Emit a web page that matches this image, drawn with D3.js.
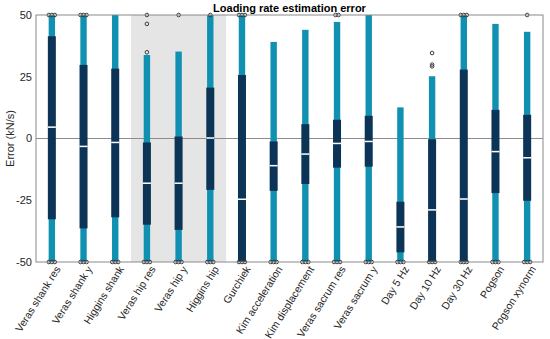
<!DOCTYPE html>
<html><head><meta charset="utf-8">
<script src="https://cdn.jsdelivr.net/npm/d3@7"></script>
<style>body{margin:0;background:#fff;} svg{display:block;font-family:"Liberation Sans",Arial,sans-serif;}</style>
</head><body><svg id="c" width="550" height="339"></svg>
<script>
const categories = ["Veras shank res","Veras shank y","Higgins shank","Veras hip res","Veras hip y","Higgins hip","Gurchiek","Kim acceleration","Kim displacement","Veras sacrum res","Veras sacrum y","Day 5 Hz","Day 10 Hz","Day 30 Hz","Pogson","Pogson xynorm"];
const whiskerHigh = [50,50,50,33.8,35.2,50,50,39.1,44,47.2,50,12.6,25.2,50,46.4,43.2];
const whiskerLow  = [-50,-50,-50,-50,-50,-50,-50,-50,-50,-50,-50,-50,-50,-50,-50,-50];
const boxHigh = [41.4,29.8,28.3,-1.6,0.8,20.6,25.7,-1.2,5.8,7.6,9.2,-25.6,-0.3,27.9,11.6,9.6];
const medians = [4.6,-3.2,-1.6,-18.1,-18.1,0.2,-24.6,-11,-6.3,-2,-1.2,-35.8,-28.9,-24.5,-5.3,-7.8];
const boxLow  = [-32.7,-36.4,-31.9,-34.9,-37,-20.8,-50,-21.2,-18.4,-11.8,-11.4,-46.1,-50,-50,-22.1,-25.2];
const outliersHigh = [[50,50,50],[50,50,50],[],[50,46.4,34.9],[50],[50],[50,50,50],[],[],[50,50],[],[],[34.6,29.9,29.2],[50,50,50],[],[50]];
const outliersLow = categories.map(()=>[-50,-50,-50]);
const shadedCategories = ["Veras hip res","Veras hip y","Higgins hip"];
const yTicks = [-50,-25,0,25,50];

const svg = d3.select("#c");
const L=36,R=543,T=15,B=262;
const x = d3.scaleBand().domain(categories).range([L,R]).padding(0);
const y = d3.scaleLinear().domain([-50,50]).range([B,T]);
const cx = c => x(c)+x.bandwidth()/2;
const teal="#1191b1", navy="#0b3457", axisCol="#8a8a8a", txt="#262626";

svg.append("rect").attr("x",x(shadedCategories[0])).attr("y",T)
  .attr("width",x(shadedCategories[shadedCategories.length-1])+x.bandwidth()-x(shadedCategories[0]))
  .attr("height",B-T).attr("fill","#e5e5e5");
svg.append("line").attr("x1",L).attr("x2",R).attr("y1",y(0)).attr("y2",y(0)).attr("stroke","#8c8c8c").attr("stroke-width",1);

const g = svg.append("g");
categories.forEach((c,i)=>{
  const xc=cx(c);
  g.append("rect").attr("x",xc-3.2).attr("width",6.4).attr("y",y(whiskerHigh[i])).attr("height",y(whiskerLow[i])-y(whiskerHigh[i])).attr("fill",teal);
  g.append("rect").attr("x",xc-4).attr("width",8).attr("y",y(boxHigh[i])).attr("height",y(boxLow[i])-y(boxHigh[i])).attr("fill",navy);
  g.append("rect").attr("x",xc-4).attr("width",8).attr("y",y(medians[i])-0.75).attr("height",1.5).attr("fill","#fff");
  const drawOut = arr => {
    const counts={};
    arr.forEach(v=>{counts[v]=(counts[v]||0)+1;});
    const seen={};
    arr.forEach(v=>{
      const n=counts[v]; const k=(seen[v]=(seen[v]||0)+1)-1;
      const off = n>1 ? (k-(n-1)/2)*3 : 0;
      g.append("circle").attr("cx",xc+off).attr("cy",y(v)).attr("r",1.8).attr("fill","none").attr("stroke","#3a3a3a").attr("stroke-width",1);
    });
  };
  drawOut(outliersHigh[i]);
  drawOut(outliersLow[i]);
});

svg.append("rect").attr("x",L).attr("y",T).attr("width",R-L).attr("height",B-T).attr("fill","none").attr("stroke",axisCol).attr("stroke-width",1);

yTicks.forEach(t=>{
  svg.append("text").attr("x",L-4).attr("y",y(t)).attr("dy","0.35em").attr("text-anchor","end").attr("font-size",11).attr("fill",txt).text(t);
});
categories.forEach(c=>{
  svg.append("text").attr("transform",`translate(${cx(c)+6},${B+5}) rotate(-58)`).attr("text-anchor","end").attr("dy","0.35em").attr("font-size",10.5).attr("fill",txt).text(c);
});
svg.append("text").attr("transform",`translate(14,${(T+B)/2}) rotate(-90)`).attr("text-anchor","middle").attr("font-size",11).attr("fill",txt).text("Error (kN/s)");
svg.append("text").attr("x",(L+R)/2).attr("y",12).attr("text-anchor","middle").attr("font-size",11).attr("font-weight","bold").attr("fill","#000").text("Loading rate estimation error");
</script></body></html>
